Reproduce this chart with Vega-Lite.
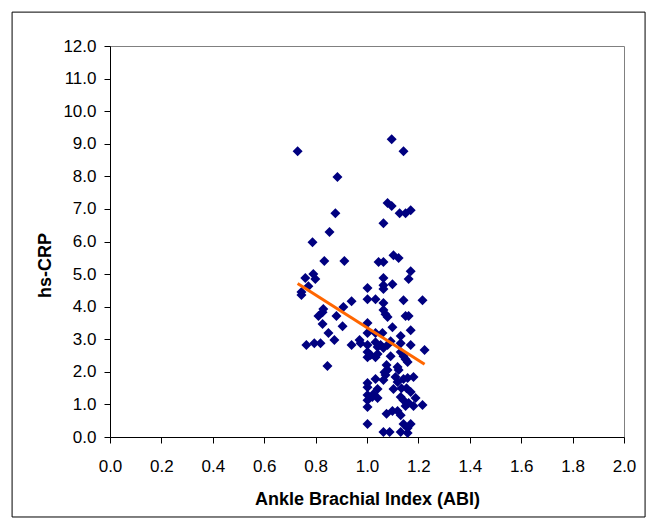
{
  "$schema": "https://vega.github.io/schema/vega-lite/v6.json",
  "width": 514,
  "height": 391,
  "autosize": {"type": "none"},
  "padding": {"left": 110, "top": 46, "right": 31, "bottom": 90},
  "background": "white",
  "config": {
    "font": "Liberation Sans",
    "view": {"stroke": "#808080", "strokeWidth": 1},
    "axis": {
      "grid": false,
      "domainColor": "black",
      "tickColor": "black",
      "tickSize": 6,
      "labelColor": "black",
      "labelFont": "Liberation Sans",
      "labelFontSize": 17,
      "titleFont": "Liberation Sans",
      "titleFontSize": 18,
      "titleFontWeight": "bold",
      "titleColor": "black",
      "format": ".1f",
      "labelFlush": false,
      "labelOverlap": false
    },
    "axisX": {"labelPadding": 15, "titlePadding": 16},
    "axisY": {"labelPadding": 8, "titlePadding": 8, "titleY": 219}
  },
  "data": {"values": [
    {"ABI": 0.73, "hsCRP": 8.77}, {"ABI": 0.885, "hsCRP": 7.98}, {"ABI": 0.877, "hsCRP": 6.87}, {"ABI": 0.854, "hsCRP": 6.29},
    {"ABI": 0.788, "hsCRP": 5.98}, {"ABI": 0.834, "hsCRP": 5.40}, {"ABI": 0.912, "hsCRP": 5.40}, {"ABI": 0.760, "hsCRP": 4.88},
    {"ABI": 0.791, "hsCRP": 5.00}, {"ABI": 0.799, "hsCRP": 4.85}, {"ABI": 0.772, "hsCRP": 4.63}, {"ABI": 0.745, "hsCRP": 4.45},
    {"ABI": 0.745, "hsCRP": 4.36}, {"ABI": 0.940, "hsCRP": 4.17}, {"ABI": 0.908, "hsCRP": 3.99}, {"ABI": 0.830, "hsCRP": 3.93},
    {"ABI": 0.827, "hsCRP": 3.83}, {"ABI": 0.811, "hsCRP": 3.71}, {"ABI": 0.881, "hsCRP": 3.71}, {"ABI": 0.827, "hsCRP": 3.47},
    {"ABI": 0.905, "hsCRP": 3.40}, {"ABI": 0.850, "hsCRP": 3.19}, {"ABI": 0.873, "hsCRP": 2.98}, {"ABI": 0.764, "hsCRP": 2.82},
    {"ABI": 0.795, "hsCRP": 2.88}, {"ABI": 0.819, "hsCRP": 2.88}, {"ABI": 0.940, "hsCRP": 2.82}, {"ABI": 0.971, "hsCRP": 2.98},
    {"ABI": 0.975, "hsCRP": 2.88}, {"ABI": 0.846, "hsCRP": 2.18},
    {"ABI": 1.096, "hsCRP": 9.14}, {"ABI": 1.142, "hsCRP": 8.77}, {"ABI": 1.080, "hsCRP": 7.18}, {"ABI": 1.096, "hsCRP": 7.09},
    {"ABI": 1.127, "hsCRP": 6.87}, {"ABI": 1.150, "hsCRP": 6.87}, {"ABI": 1.170, "hsCRP": 6.96}, {"ABI": 1.064, "hsCRP": 6.56},
    {"ABI": 1.045, "hsCRP": 5.37}, {"ABI": 1.064, "hsCRP": 5.37}, {"ABI": 1.103, "hsCRP": 5.58}, {"ABI": 1.123, "hsCRP": 5.49},
    {"ABI": 1.170, "hsCRP": 5.09}, {"ABI": 1.162, "hsCRP": 4.85}, {"ABI": 1.064, "hsCRP": 4.88}, {"ABI": 1.064, "hsCRP": 4.66},
    {"ABI": 1.064, "hsCRP": 4.54}, {"ABI": 1.099, "hsCRP": 4.69}, {"ABI": 1.002, "hsCRP": 4.57}, {"ABI": 1.002, "hsCRP": 4.23},
    {"ABI": 1.033, "hsCRP": 4.23}, {"ABI": 1.142, "hsCRP": 4.20}, {"ABI": 1.216, "hsCRP": 4.20}, {"ABI": 1.064, "hsCRP": 4.11},
    {"ABI": 1.064, "hsCRP": 3.90}, {"ABI": 1.072, "hsCRP": 3.77}, {"ABI": 1.080, "hsCRP": 3.68}, {"ABI": 1.150, "hsCRP": 3.71},
    {"ABI": 1.162, "hsCRP": 3.71}, {"ABI": 1.002, "hsCRP": 3.50}, {"ABI": 1.099, "hsCRP": 3.37}, {"ABI": 1.170, "hsCRP": 3.28},
    {"ABI": 1.002, "hsCRP": 3.19}, {"ABI": 1.033, "hsCRP": 3.19}, {"ABI": 1.060, "hsCRP": 3.19}, {"ABI": 1.131, "hsCRP": 3.10},
    {"ABI": 1.092, "hsCRP": 2.94}, {"ABI": 1.170, "hsCRP": 2.82}, {"ABI": 1.002, "hsCRP": 2.82}, {"ABI": 1.033, "hsCRP": 2.91},
    {"ABI": 1.041, "hsCRP": 2.76}, {"ABI": 1.053, "hsCRP": 2.82}, {"ABI": 1.064, "hsCRP": 2.73}, {"ABI": 1.080, "hsCRP": 2.82},
    {"ABI": 1.131, "hsCRP": 2.88}, {"ABI": 1.002, "hsCRP": 2.61}, {"ABI": 1.014, "hsCRP": 2.52}, {"ABI": 1.041, "hsCRP": 2.55},
    {"ABI": 1.033, "hsCRP": 2.45}, {"ABI": 1.002, "hsCRP": 2.45}, {"ABI": 1.092, "hsCRP": 2.48}, {"ABI": 1.131, "hsCRP": 2.61},
    {"ABI": 1.142, "hsCRP": 2.48}, {"ABI": 1.150, "hsCRP": 2.39}, {"ABI": 1.158, "hsCRP": 2.30}, {"ABI": 1.224, "hsCRP": 2.67},
    {"ABI": 1.076, "hsCRP": 2.21}, {"ABI": 1.080, "hsCRP": 2.06}, {"ABI": 1.072, "hsCRP": 1.90}, {"ABI": 1.064, "hsCRP": 1.75},
    {"ABI": 1.119, "hsCRP": 2.15}, {"ABI": 1.123, "hsCRP": 2.06}, {"ABI": 1.002, "hsCRP": 1.66}, {"ABI": 1.002, "hsCRP": 1.53},
    {"ABI": 1.033, "hsCRP": 1.78}, {"ABI": 1.041, "hsCRP": 1.47}, {"ABI": 1.111, "hsCRP": 1.84}, {"ABI": 1.119, "hsCRP": 1.69},
    {"ABI": 1.142, "hsCRP": 1.78}, {"ABI": 1.158, "hsCRP": 1.81}, {"ABI": 1.181, "hsCRP": 1.84}, {"ABI": 1.103, "hsCRP": 1.47},
    {"ABI": 1.134, "hsCRP": 1.50}, {"ABI": 1.154, "hsCRP": 1.50}, {"ABI": 1.170, "hsCRP": 1.38}, {"ABI": 1.002, "hsCRP": 1.29},
    {"ABI": 1.002, "hsCRP": 1.13}, {"ABI": 1.021, "hsCRP": 1.23}, {"ABI": 1.041, "hsCRP": 1.20}, {"ABI": 1.131, "hsCRP": 1.23},
    {"ABI": 1.142, "hsCRP": 1.13}, {"ABI": 1.162, "hsCRP": 1.04}, {"ABI": 1.189, "hsCRP": 1.20}, {"ABI": 1.002, "hsCRP": 0.92},
    {"ABI": 1.150, "hsCRP": 0.95}, {"ABI": 1.181, "hsCRP": 0.95}, {"ABI": 1.216, "hsCRP": 0.98}, {"ABI": 1.076, "hsCRP": 0.71},
    {"ABI": 1.099, "hsCRP": 0.80}, {"ABI": 1.119, "hsCRP": 0.80}, {"ABI": 1.131, "hsCRP": 0.67}, {"ABI": 1.002, "hsCRP": 0.40},
    {"ABI": 1.142, "hsCRP": 0.40}, {"ABI": 1.170, "hsCRP": 0.40}, {"ABI": 1.158, "hsCRP": 0.28}, {"ABI": 1.064, "hsCRP": 0.15},
    {"ABI": 1.088, "hsCRP": 0.15}, {"ABI": 1.131, "hsCRP": 0.15}, {"ABI": 1.158, "hsCRP": 0.12}, {"ABI": 1.068, "hsCRP": 1.99},
    {"ABI": 1.025, "hsCRP": 1.32}
  ]},
  "layer": [
    {
      "data": {"values": [{}]},
      "mark": {"type": "rect", "fill": null, "stroke": "black", "strokeWidth": 1, "clip": false},
      "encoding": {
        "x": {"datum": -0.381, "type": "quantitative", "scale": {"domain": [0, 2]}, "title": "Ankle Brachial Index (ABI)", "axis": {"values": [0, 0.2, 0.4, 0.6, 0.8, 1.0, 1.2, 1.4, 1.6, 1.8, 2.0]}},
        "x2": {"datum": 2.082},
        "y": {"datum": 13.04, "type": "quantitative", "scale": {"domain": [0, 12]}, "title": "hs-CRP", "axis": {"values": [0, 1, 2, 3, 4, 5, 6, 7, 8, 9, 10, 11, 12]}},
        "y2": {"datum": -2.455}
      }
    },
    {
      "mark": {"type": "point", "shape": "diamond", "filled": true, "color": "#000080", "size": 100, "opacity": 1},
      "encoding": {
        "x": {"field": "ABI", "type": "quantitative", "scale": {"domain": [0, 2]}, "title": "Ankle Brachial Index (ABI)", "axis": {"values": [0, 0.2, 0.4, 0.6, 0.8, 1.0, 1.2, 1.4, 1.6, 1.8, 2.0]}},
        "y": {"field": "hsCRP", "type": "quantitative", "scale": {"domain": [0, 12]}, "title": "hs-CRP", "axis": {"values": [0, 1, 2, 3, 4, 5, 6, 7, 8, 9, 10, 11, 12]}}
      }
    },
    {
      "transform": [{"regression": "hsCRP", "on": "ABI"}],
      "mark": {"type": "line", "color": "#FF6600", "strokeWidth": 3},
      "encoding": {
        "x": {"field": "ABI", "type": "quantitative", "scale": {"domain": [0, 2]}, "title": "Ankle Brachial Index (ABI)", "axis": {"values": [0, 0.2, 0.4, 0.6, 0.8, 1.0, 1.2, 1.4, 1.6, 1.8, 2.0]}},
        "y": {"field": "hsCRP", "type": "quantitative", "scale": {"domain": [0, 12]}, "title": "hs-CRP", "axis": {"values": [0, 1, 2, 3, 4, 5, 6, 7, 8, 9, 10, 11, 12]}}
      }
    }
  ]
}
